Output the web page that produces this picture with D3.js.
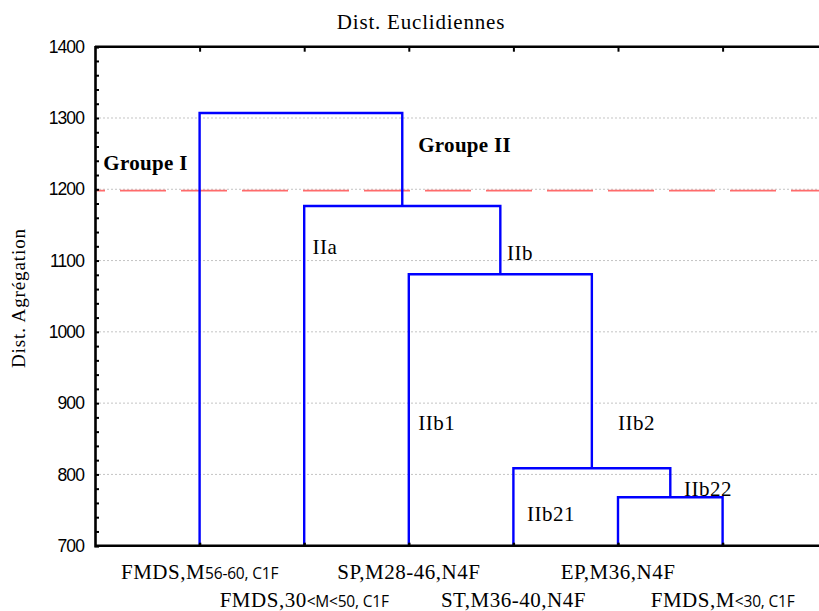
<!DOCTYPE html>
<html>
<head>
<meta charset="utf-8">
<script src="https://cdn.jsdelivr.net/npm/d3@7"></script>
<style>
  body { margin: 0; background: #fff; }
  svg { display: block; }
</style>
</head>
<body>
<div id="chart"></div>
<script>
// leaf labels: serif part + sans part
const leafSerif = ["FMDS,M", "FMDS,30", "SP,M28-46,N4F", "ST,M36-40,N4F", "EP,M36,N4F", "FMDS,M"];
const leafSans = ["56-60, C1F", "<M<50, C1F", "", "", "", "<30, C1F"];

// merges: [child a, child b, distance]; leaves are 0..5, new clusters 6..
const mergeA = [4, 3, 2, 1, 0];
const mergeB = [5, 6, 7, 8, 9];
const mergeDist = [768, 808.7, 1080.8, 1176.6, 1307];

const cutLevel = 1198;
const yTicks = [700, 800, 900, 1000, 1100, 1200, 1300, 1400];

// group annotations (anchored in leaf / distance units)
const noteText = ["Groupe I", "Groupe II", "IIa", "IIb", "IIb1", "IIb2", "IIb21", "IIb22"];
const noteX = [0.08, 3.09, 2.08, 3.94, 3.09, 5.0, 4.13, 5.63];
const noteY = [1227, 1252, 1109, 1101, 863, 863, 734, 770];
const noteBold = [true, true, false, false, false, false, false, false];

const W = 819, H = 611;
const mLeft = 95, mTop = 46.7, mBottom = 545.7;

const x = d3.scaleLinear().domain([0, 7]).range([mLeft, mLeft + 7 * 104.6]);
const y = d3.scaleLinear().domain([700, 1400]).range([mBottom, mTop]);

const svg = d3.select("#chart").append("svg")
  .attr("width", W)
  .attr("height", H);

// grid
svg.append("g")
  .selectAll("line")
  .data(yTicks.slice(1, -1))
  .join("line")
  .attr("x1", mLeft).attr("x2", W)
  .attr("y1", d => y(d)).attr("y2", d => y(d))
  .attr("stroke", "#c4c4c4")
  .attr("stroke-width", 1)
  .attr("stroke-dasharray", "2,2");

// cut line
svg.append("line")
  .attr("x1", mLeft).attr("x2", W)
  .attr("y1", y(cutLevel)).attr("y2", y(cutLevel))
  .attr("stroke", "#ff6b6b")
  .attr("stroke-width", 1.8)
  .attr("stroke-dasharray", "46,15")
  .attr("stroke-dashoffset", 36);

// dendrogram positions
const nodeX = leafSerif.map((d, i) => i + 1);
const nodeH = leafSerif.map(() => 700);
mergeDist.forEach((h, i) => {
  nodeX.push((nodeX[mergeA[i]] + nodeX[mergeB[i]]) / 2);
  nodeH.push(h);
});

svg.append("g")
  .selectAll("path")
  .data(mergeDist)
  .join("path")
  .attr("fill", "none")
  .attr("stroke", "#0000ff")
  .attr("stroke-width", 2.4)
  .attr("d", (h, i) => {
    const a = mergeA[i], b = mergeB[i];
    return `M${x(nodeX[a])},${y(nodeH[a])}V${y(h)}H${x(nodeX[b])}V${y(nodeH[b])}`;
  });

// axes
const yAxis = d3.axisLeft(y)
  .tickValues(d3.range(700, 1401, 20))
  .tickSize(-4)
  .tickFormat(d => yTicks.includes(d) ? d : "");
const gy = svg.append("g")
  .attr("transform", `translate(${mLeft},0)`)
  .call(yAxis);
gy.select(".domain").attr("stroke", "#000").attr("stroke-width", 2.6);
gy.selectAll(".tick line").attr("stroke", "#000").attr("stroke-width", 2);
gy.selectAll(".tick text")
  .attr("x", -11)
  .style("font-family", "'Liberation Sans', Arial, sans-serif")
  .style("font-size", "17.5px")
  .style("letter-spacing", "-0.9px")
  .attr("fill", "#000");

const leafIdx = d3.range(1, 7);
const gTop = svg.append("g")
  .attr("transform", `translate(0,${mTop})`)
  .call(d3.axisTop(x).tickValues(leafIdx).tickSize(-5).tickFormat(""));
gTop.select(".domain").attr("stroke", "#000").attr("stroke-width", 2.4).attr("d", `M${mLeft},0H${x(7)}`);
gTop.selectAll(".tick line").attr("stroke", "#000").attr("stroke-width", 2);

const gBot = svg.append("g")
  .attr("transform", `translate(0,${mBottom})`)
  .call(d3.axisBottom(x).tickValues(leafIdx).tickSize(-3).tickFormat(""));
gBot.select(".domain").attr("stroke", "#000").attr("stroke-width", 2.6).attr("d", `M${mLeft},0H${x(7)}`);
gBot.selectAll(".tick line").attr("stroke", "#000").attr("stroke-width", 2.4);

// leaf labels, two staggered rows
const lab = svg.append("g")
  .selectAll("text")
  .data(leafSerif)
  .join("text")
  .attr("x", (d, i) => x(i + 1))
  .attr("y", (d, i) => mBottom + (i % 2 ? 61.5 : 33.5))
  .attr("text-anchor", "middle")
  .attr("fill", "#000")
  .style("font-family", "'Liberation Serif', 'Times New Roman', serif")
  .style("font-size", "21px")
  .style("letter-spacing", "0.5px");
lab.append("tspan").text(d => d);
lab.append("tspan")
  .text((d, i) => leafSans[i])
  .style("font-family", "'Open Sans', 'Liberation Sans', sans-serif")
  .style("font-size", "15.5px")
  .style("letter-spacing", "-0.2px");

// annotations
svg.append("g")
  .selectAll("text")
  .data(noteText)
  .join("text")
  .attr("x", (d, i) => x(noteX[i]))
  .attr("y", (d, i) => y(noteY[i]))
  .text(d => d)
  .attr("fill", "#000")
  .style("font-family", "'Liberation Serif', 'Times New Roman', serif")
  .style("font-size", "21px")
  .style("font-weight", (d, i) => noteBold[i] ? "bold" : "normal")
  .style("letter-spacing", (d, i) => noteBold[i] ? "0.3px" : "0.5px");

// titles
svg.append("text")
  .attr("x", 421).attr("y", 29)
  .attr("text-anchor", "middle")
  .text("Dist. Euclidiennes")
  .style("font-family", "'Liberation Serif', 'Times New Roman', serif")
  .style("font-size", "21px")
  .style("letter-spacing", "0.8px");

svg.append("text")
  .attr("transform", "translate(25,298) rotate(-90)")
  .attr("text-anchor", "middle")
  .text("Dist. Agrégation")
  .style("font-family", "'Liberation Serif', 'Times New Roman', serif")
  .style("font-size", "19px")
  .style("letter-spacing", "0.9px");
</script>
</body>
</html>
